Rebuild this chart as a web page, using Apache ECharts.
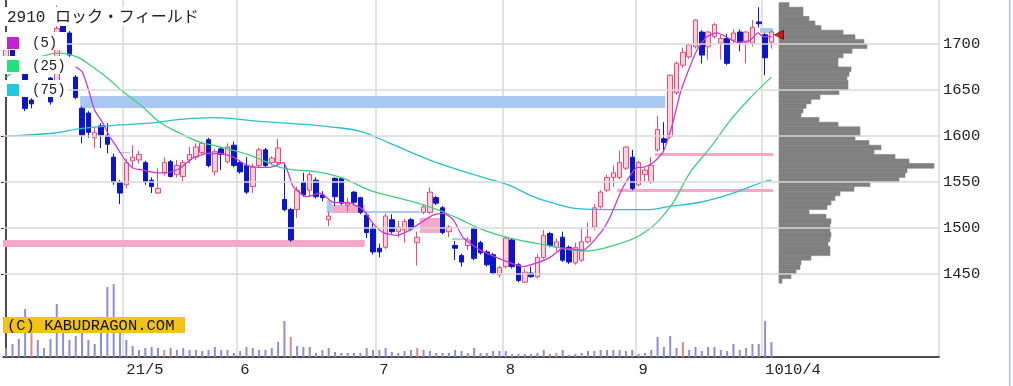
<!DOCTYPE html>
<html><head><meta charset="utf-8">
<script src="https://cdn.jsdelivr.net/npm/echarts@6/dist/echarts.min.js"></script>
<style>html,body{margin:0;padding:0;background:#fff}#c{width:1013px;height:386px}</style>
</head><body><div id="c"></div>
<script>
// ---- data ----
const monthDays = [
 [4,[5,6,7,8,9,12,13,14,15,16,19,20,21,22,23,26,27,28,30]],
 [5,[6,7,10,11,12,13,14,17,18,19,20,21,24,25,26,27,28,31]],
 [6,[1,2,3,4,7,8,9,10,11,14,15,16,17,18,21,22,23,24,25,28,29,30]],
 [7,[1,2,5,6,7,8,9,12,13,14,15,16,19,20,21,26,27,28,29,30]],
 [8,[2,3,4,5,6,10,11,12,13,16,17,18,19,20,23,24,25,26,27,30,31]],
 [9,[1,2,3,6,7,8,9,10,13,14,15,16,17,21,22,24,27,28,29,30]],
 [10,[1,4]]
];
const monthTickText = {5:'21/5',6:'6',7:'7',8:'8',9:'9',10:'10'};
const lastTickText = '10/4';
const yTicks = [1450,1500,1550,1600,1650,1700];

// [open, close, low, high]
const ohlc = [
[1684,1695,1680,1700],[1696,1685,1682,1699],[1684,1672,1670,1686],[1667,1630,1627,1669],[1639,1635,1630,1641],
[1645,1655,1643,1657],[1647,1658,1645,1660],[1663,1637,1634,1664],[1650,1717,1645,1742],[1725,1705,1700,1732],
[1712,1688,1686,1714],[1664,1642,1640,1666],[1630,1601,1592,1632],[1625,1604,1598,1627],[1598,1604,1587,1610],
[1611,1601,1587,1614],[1601,1591,1581,1614],[1577,1550,1547,1581],[1550,1538,1526,1552],[1547,1571,1543,1575],
[1573,1577,1565,1590],[1574,1580,1570,1584],[1571,1550,1547,1573],[1552,1545,1538,1555],[1538,1543,1537,1565],
[1560,1571,1557,1577],[1572,1556,1555,1574],[1558,1568,1555,1574],[1556,1571,1551,1574],[1574,1580,1570,1588],
[1577,1588,1574,1592],[1582,1592,1580,1594],[1596,1568,1566,1598],[1561,1583,1557,1586],[1586,1580,1563,1588],
[1572,1588,1570,1592],[1590,1568,1566,1594],[1571,1561,1559,1573],[1568,1539,1537,1577],[1545,1566,1538,1570],
[1568,1585,1565,1587],[1585,1568,1566,1587],[1571,1576,1568,1578],[1571,1587,1568,1597],[1531,1520,1518,1571],
[1520,1487,1485,1522],[1520,1541,1511,1545],[1550,1536,1534,1560],[1541,1558,1534,1561],[1552,1534,1532,1555],
[1536,1533,1529,1540],[1509,1513,1502,1518],[1554,1534,1524,1555],[1554,1527,1525,1555],[1525,1528,1518,1533],
[1539,1528,1526,1540],[1533,1517,1515,1534],[1514,1495,1489,1517],[1500,1474,1471,1505],[1478,1474,1468,1483],
[1479,1513,1477,1516],[1509,1496,1494,1515],[1496,1501,1490,1508],[1498,1507,1484,1510],[1509,1499,1497,1511],
[1484,1490,1459,1496],[1517,1523,1515,1525],[1517,1539,1515,1544],[1533,1527,1525,1535],[1522,1495,1493,1524],
[1496,1501,1490,1503],[1481,1478,1465,1486],[1470,1463,1458,1472],[1481,1487,1476,1490],[1500,1467,1465,1501],
[1484,1473,1471,1486],[1474,1460,1458,1476],[1471,1451,1449,1473],[1449,1457,1446,1459],[1458,1489,1456,1491],
[1487,1458,1456,1489],[1460,1443,1441,1462],[1441,1452,1440,1456],[1451,1447,1446,1458],[1447,1468,1445,1472],
[1468,1492,1466,1498],[1494,1481,1479,1496],[1479,1485,1475,1489],[1490,1465,1463,1496],[1479,1463,1461,1481],
[1462,1479,1460,1484],[1465,1485,1463,1500],[1485,1490,1483,1506],[1501,1522,1498,1526],[1523,1539,1521,1541],
[1541,1555,1539,1558],[1555,1560,1545,1568],[1555,1571,1553,1584],[1565,1588,1563,1589],[1577,1543,1541,1585],
[1547,1571,1545,1573],[1558,1563,1550,1565],[1550,1568,1548,1577],[1585,1607,1583,1622],[1597,1593,1584,1615],
[1599,1666,1597,1667],[1647,1679,1645,1681],[1677,1691,1674,1696],[1686,1699,1684,1701],[1697,1726,1695,1727],
[1713,1688,1679,1715],[1697,1713,1683,1714],[1708,1721,1706,1723],[1701,1706,1683,1710],[1706,1679,1677,1711],
[1704,1712,1700,1716],[1713,1702,1692,1716],[1702,1713,1679,1714],[1701,1718,1697,1726],[1724,1722,1718,1740],
[1710,1685,1666,1712],[1702,1713,1695,1715]
];

const volume = [
9,13,18,48,24,17,9,18,53,30,17,21,30,17,13,30,70,73,30,17,
11,7,9,10,9,7,9,7,9,7,7,6,7,10,7,7,4,6,10,9,
7,7,9,15,36,20,11,10,10,4,7,9,5,4,4,4,4,9,7,7,
9,5,4,6,7,9,7,6,4,4,4,7,6,4,9,4,4,6,6,6,
3,3,3,3,4,7,3,4,7,2,3,4,6,6,7,7,7,7,6,7,
3,4,7,20,10,21,9,15,7,10,6,10,10,7,6,13,7,9,13,13,
36,15
];
const volRedIdx = [4,25,45,65,87,107];

// [index, price]
const ma5 = [[11,1675],[12,1670],[12.9,1653],[14,1628],[15.3,1614],[16.4,1599],[17.5,1588],[18.8,1574],[20.1,1565],[21.6,1563],[23.9,1560],[25.4,1560],[27.5,1565],[29.5,1576],[31.8,1581],[33.8,1581],[35.9,1577],[38.1,1568],[40.1,1566],[41.7,1566],[43.8,1571],[45.4,1545],[47.6,1534],[49.6,1538],[51.7,1528],[54.4,1527],[56.4,1520],[58,1505],[59.6,1495],[61.8,1492],[63.9,1498],[65.4,1505],[67.5,1514],[69.1,1516],[70.7,1509],[72.2,1490],[74.5,1478],[76.5,1471],[79.7,1462],[81.7,1458],[83.9,1462],[86,1468],[88.1,1478],[91.2,1476],[93.9,1494],[95.5,1512],[97.1,1538],[98.2,1552],[99.8,1566],[100.7,1566],[102.3,1571],[103.9,1583],[105.4,1614],[106.6,1647],[107.7,1668],[109.2,1693],[110.8,1708],[112.4,1712],[115.6,1702],[117.6,1704],[118.9,1712],[119.7,1708],[121,1708]];
const ma25 = [[0,1664],[8.2,1690],[11.2,1686],[13.7,1675],[16.4,1661],[18.5,1648],[21.2,1634],[24.3,1615],[27.5,1603],[30.7,1593],[32.7,1590],[38.6,1579],[43.8,1565],[49.2,1561],[53.3,1554],[57.5,1541],[61.8,1533],[67,1523],[71.3,1511],[75.4,1498],[79.7,1489],[84.9,1482],[91.5,1475],[95.5,1480],[100.7,1494],[105,1523],[108.1,1560],[111.3,1587],[114.5,1617],[117.6,1641],[121,1664]];
const ma75 = [[0,1600],[7.4,1603],[11.7,1608],[18,1612],[22.7,1614],[27.5,1618],[32.7,1620],[40.1,1616],[46.5,1613],[51.2,1610],[56,1605],[60.7,1592],[68.1,1571],[75.4,1555],[79.7,1546],[83.3,1534],[86,1528],[90.3,1521],[95.5,1520],[101.8,1520],[104.5,1523],[109.7,1528],[115,1538],[119.7,1550],[121,1552]];

// zones: [fromIndex, toIndex, lowPrice, highPrice]
const blueZones = [[11.7,104.2,1630.4,1643.5],[50.7,51.5,1516.3,1530.4],[56.7,65.4,1516.3,1518.5],[70.5,73,1487,1489],[17.7,19.6,1581.5,1582.6],[119.2,121.3,1712,1717.4]];
const pinkZones = [[-1,56.7,1479.3,1487],[51.5,56.7,1516.3,1525],[65.4,68.6,1494.6,1510.9],[102.6,121.3,1578.3,1581.5],[96.6,121.3,1539.1,1542.4]];

// price-volume profile: bin lower bounds (5-yen bins) and bar lengths
const profileBinStart = 1440, profileBinStep = 5;
const profile = [3,12,17,21,22,32,51,51,49,51,52,51,51,52,47,30,48,52,56,61,75,91,120,126,128,155,130,116,95,102,90,76,81,81,59,40,22,24,27,32,41,60,69,69,68,70,72,59,59,64,73,88,85,76,64,42,36,30,24,24,10];
const lastMark = [122.2, 1710];

const title = '2910 ロック・フィールド';
const legendNames = ['(5)','(25)','(75)'];
const watermark = '(C) KABUDRAGON.COM';

// ---- build ----
const dates = [];
const labelMap = {};
const monthStarts = [];
monthDays.forEach(([m, days]) => {
  if (monthTickText[m]) { labelMap[dates.length] = monthTickText[m]; monthStarts.push(dates.length); }
  days.forEach(d => dates.push('2021/' + m + '/' + d));
});
const lastIdx = dates.length - 1;
// the last month tick sits right before the last day; their texts run together
labelMap[lastIdx - 1] = (labelMap[lastIdx - 1] || '') + lastTickText;
const N = 148;
const cats = dates.slice();
for (let k = cats.length; k < N; k++) cats.push('pad' + k);

const PMIN = 1359.78, PMAX = 1747.83;
const C_MA5 = '#c83ad0', C_MA25 = '#3fd07a', C_MA75 = '#25bfd2';
const FONT = '"Liberation Mono", "Noto Sans CJK JP", monospace';

const markAreaData = [];
blueZones.forEach(z => markAreaData.push([{xAxis:z[0], yAxis:z[2], itemStyle:{color:'#a9c8f2'}}, {xAxis:z[1], yAxis:z[3]}]));
pinkZones.forEach(z => markAreaData.push([{xAxis:z[0], yAxis:z[2], itemStyle:{color:'#f5a9c9'}}, {xAxis:z[1], yAxis:z[3]}]));

const profileData = profile.map((w, k) => [w, profileBinStart + k * profileBinStep]);

function g(el) { el.z = 100; return el; }

const chart = echarts.init(document.getElementById('c'));
const option = {
  animation: false,
  backgroundColor: '#fff',
  grid: [
    {left: 3, right: 74, top: 0, height: 357},
    {left: 3, right: 74, top: 277, height: 80},
    {left: 779, width: 160, top: 0, height: 357}
  ],
  xAxis: [
    {type:'category', gridIndex:0, data: cats, boundaryGap: true,
     axisLine:{show:false}, axisTick:{show:false}, axisLabel:{show:false},
     splitLine:{show:true, interval:(i)=>monthStarts.indexOf(i) >= 0, lineStyle:{color:'#d9d9d9', width:1.5}}},
    {type:'value', gridIndex:0, min:-0.5, max:N-0.5, show:false},
    {type:'category', gridIndex:1, data: cats, boundaryGap: true,
     axisLine:{show:true, lineStyle:{color:'#111', width:1.5}}, axisTick:{show:false},
     axisLabel:{show:true, hideOverlap:false, interval:(i)=>labelMap[i] !== undefined,
       formatter:(v,i)=> labelMap[i] || '',
       align:'left', margin:5, fontFamily:FONT, fontSize:15.5, color:'#222'},
     splitLine:{show:false}},
    {type:'value', gridIndex:2, min:0, max:160, show:false}
  ],
  yAxis: [
    {type:'value', gridIndex:0, position:'right', min:PMIN, max:PMAX, scale:true,
     axisLine:{show:true, lineStyle:{color:'#111', width:1.5}},
     axisTick:{show:true, inside:true, length:5, customValues:yTicks, lineStyle:{color:'#111'}},
     axisLabel:{show:true, customValues:yTicks, formatter:(v)=>String(Math.round(v)), margin:4, fontFamily:FONT, fontSize:15.5, color:'#222'},
     splitLine:{show:false}},
    {type:'value', gridIndex:1, min:0, max:80, show:false},
    {type:'value', gridIndex:2, min:PMIN, max:PMAX, show:false}
  ],
  series: [
    {type:'line', name:'decor', xAxisIndex:1, yAxisIndex:0, data:[], z:1, silent:true,
     markLine:{silent:true, symbol:'none', label:{show:false}, animation:false,
       lineStyle:{color:'#d9d9d9', width:1.5, type:'solid'},
       data: yTicks.map(v => ({yAxis:v}))},
     markArea:{silent:true, label:{show:false}, data: markAreaData}},
    {type:'candlestick', xAxisIndex:0, yAxisIndex:0, data: ohlc, barWidth:5, z:3,
     itemStyle:{color:'#fbd3de', borderColor:'#e64c78', color0:'#0a16c8', borderColor0:'#0a16c8', borderWidth:1}},
    {type:'line', name:'75', xAxisIndex:1, yAxisIndex:0, data: ma75, symbol:'none', smooth:0.4, z:4,
     lineStyle:{color:C_MA75, width:1.3}},
    {type:'line', name:'25', xAxisIndex:1, yAxisIndex:0, data: ma25, symbol:'none', smooth:0.4, z:4,
     lineStyle:{color:C_MA25, width:1.3}},
    {type:'line', name:'5', xAxisIndex:1, yAxisIndex:0, data: ma5, symbol:'none', smooth:0.2, z:4,
     lineStyle:{color:C_MA5, width:1.3}},
    {type:'bar', xAxisIndex:2, yAxisIndex:1, barWidth:2, z:2,
     data: volume.map((v,i) => ({value:v, itemStyle:{color: volRedIdx.indexOf(i) >= 0 ? '#d98a8a' : '#8d8dd6'}}))},
    {type:'custom', xAxisIndex:3, yAxisIndex:2, data: profileData, z:2, silent:true,
     encode:{x:0, y:1},
     renderItem:(params, api) => {
       const w = api.value(0), p = api.value(1);
       const a = api.coord([0, p + profileBinStep]);
       const b = api.coord([w, p]);
       return {type:'rect', shape:{x:a[0], y:a[1], width:b[0]-a[0], height:b[1]-a[1]},
               style:{fill:'#808080', stroke:'#808080', lineWidth:0.6}};
     }},
    {type:'scatter', xAxisIndex:1, yAxisIndex:0, data:[lastMark], symbol:'triangle', symbolSize:[9,9], symbolRotate:90, z:10,
     itemStyle:{color:'#e00000', borderColor:'#6a0000', borderWidth:1}}
  ],
  graphic: [
    g({type:'rect', shape:{x:0,y:7,width:210,height:19}, style:{fill:'#fff'}}),
    g({type:'rect', shape:{x:0,y:32,width:66,height:18}, style:{fill:'#fff'}}),
    g({type:'rect', shape:{x:0,y:56,width:68,height:18}, style:{fill:'#fff'}}),
    g({type:'rect', shape:{x:0,y:80,width:68,height:17}, style:{fill:'#fff'}}),
    g({type:'text', x:7, y:18, style:{text:title, font:'16px ' + FONT, fill:'#222', verticalAlign:'middle'}}),
    g({type:'rect', shape:{x:7,y:37,width:12,height:12}, style:{fill:'#c41fd4'}}),
    g({type:'rect', shape:{x:7,y:60,width:12,height:12}, style:{fill:'#22e07a'}}),
    g({type:'rect', shape:{x:7,y:84,width:12,height:12}, style:{fill:'#22c8e2'}}),
    g({type:'text', x:32, y:43, style:{text:legendNames[0], font:'14px ' + FONT, fill:'#222', verticalAlign:'middle'}}),
    g({type:'text', x:32, y:66, style:{text:legendNames[1], font:'14px ' + FONT, fill:'#222', verticalAlign:'middle'}}),
    g({type:'text', x:32, y:90, style:{text:legendNames[2], font:'14px ' + FONT, fill:'#222', verticalAlign:'middle'}}),
    g({type:'rect', shape:{x:3,y:317,width:182,height:16}, style:{fill:'#f2c21c'}}),
    g({type:'text', x:7, y:325.5, style:{text:watermark, font:'15.5px ' + FONT, fill:'#111', verticalAlign:'middle'}}),
    g({type:'rect', shape:{x:1009,y:0,width:1.5,height:386}, style:{fill:'#b4b4f2'}})
  ]
};
chart.setOption(option);
</script>
</body></html>
